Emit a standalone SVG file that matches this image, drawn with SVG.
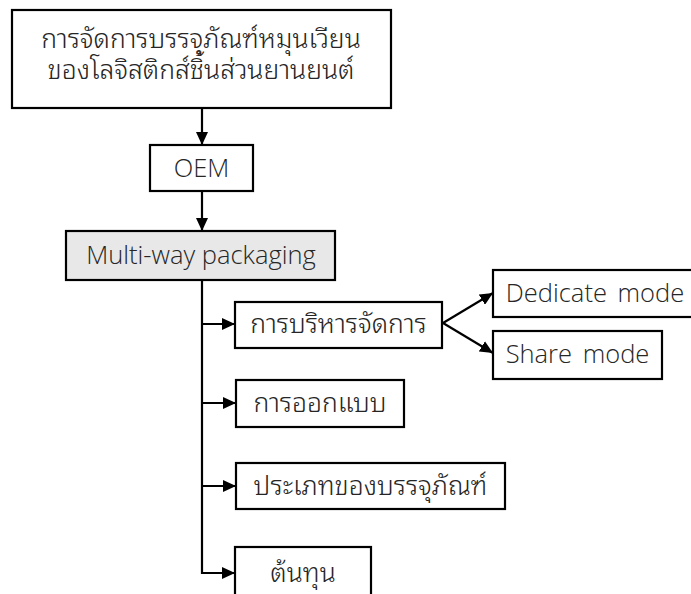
<svg xmlns="http://www.w3.org/2000/svg" width="691" height="594" viewBox="0 0 691 594">
  <defs>
    <marker id="arrow" markerWidth="13" markerHeight="12" refX="13" refY="6" orient="auto" markerUnits="userSpaceOnUse">
      <path d="M0,0 L13,6 L0,12 Z" fill="#000"/>
    </marker>
    <style>
      .box { fill: #fff; stroke: #000; stroke-width: 2.2; }
      .grey { fill: #e8e8e8; }
      .lbl { font-family: "Open Sans", "Noto Sans", "Liberation Sans", sans-serif; font-weight: 300; font-size: 25.5px; fill: #262626; text-anchor: middle; }
      .th { font-family: "Noto Sans Thai Looped", "Noto Sans Thai", "Noto Sans", sans-serif; font-weight: 300; font-size: 26.5px; }
      .spaced { word-spacing: 4px; }
      .wire { fill: none; stroke: #000; stroke-width: 2.2; }
    </style>
  </defs>
  <rect width="691" height="594" fill="#fff"/>

  <g id="connectors">
    <line class="wire" x1="202" y1="108" x2="202" y2="145" marker-end="url(#arrow)"/>
    <line class="wire" x1="202" y1="191" x2="202" y2="231" marker-end="url(#arrow)"/>
    <polyline class="wire" points="202,280 202,573 235,573" marker-end="url(#arrow)"/>
    <line class="wire" x1="202" y1="324" x2="235" y2="324" marker-end="url(#arrow)"/>
    <line class="wire" x1="202" y1="403" x2="236" y2="403" marker-end="url(#arrow)"/>
    <line class="wire" x1="202" y1="486" x2="236" y2="486" marker-end="url(#arrow)"/>
    <line class="wire" x1="443" y1="323" x2="493" y2="293" marker-end="url(#arrow)"/>
    <line class="wire" x1="443" y1="323" x2="493" y2="353" marker-end="url(#arrow)"/>
  </g>

  <g id="node-title">
    <rect class="box" x="12" y="10" width="379" height="98"/>
    <text class="lbl th" x="201" y="48">การจัดการบรรจุภัณฑ์หมุนเวียน</text>
    <text class="lbl th" x="201" y="79">ของโลจิสติกส์ชิ้นส่วนยานยนต์</text>
  </g>

  <g id="node-oem">
    <rect class="box" x="150" y="145" width="103" height="46"/>
    <text class="lbl" x="201.5" y="177">OEM</text>
  </g>

  <g id="node-multiway">
    <rect class="box grey" x="66" y="231" width="269" height="49"/>
    <text class="lbl" x="201" y="264">Multi-way packaging</text>
  </g>

  <g id="node-management">
    <rect class="box" x="235" y="302" width="207" height="46"/>
    <text class="lbl th" x="338.5" y="333">การบริหารจัดการ</text>
  </g>

  <g id="node-dedicate">
    <rect class="box" x="493" y="270" width="200" height="47"/>
    <text class="lbl spaced" x="595" y="302">Dedicate mode</text>
  </g>

  <g id="node-share">
    <rect class="box" x="493" y="331" width="169" height="48"/>
    <text class="lbl spaced" x="577.5" y="363">Share mode</text>
  </g>

  <g id="node-design">
    <rect class="box" x="236" y="380" width="168" height="47"/>
    <text class="lbl th" x="320" y="412">การออกแบบ</text>
  </g>

  <g id="node-types">
    <rect class="box" x="236" y="463" width="269" height="46"/>
    <text class="lbl th" x="370.5" y="495">ประเภทของบรรจุภัณฑ์</text>
  </g>

  <g id="node-cost">
    <rect class="box" x="235" y="547" width="136" height="60"/>
    <text class="lbl th" x="303" y="582">ต้นทุน</text>
  </g>
</svg>
